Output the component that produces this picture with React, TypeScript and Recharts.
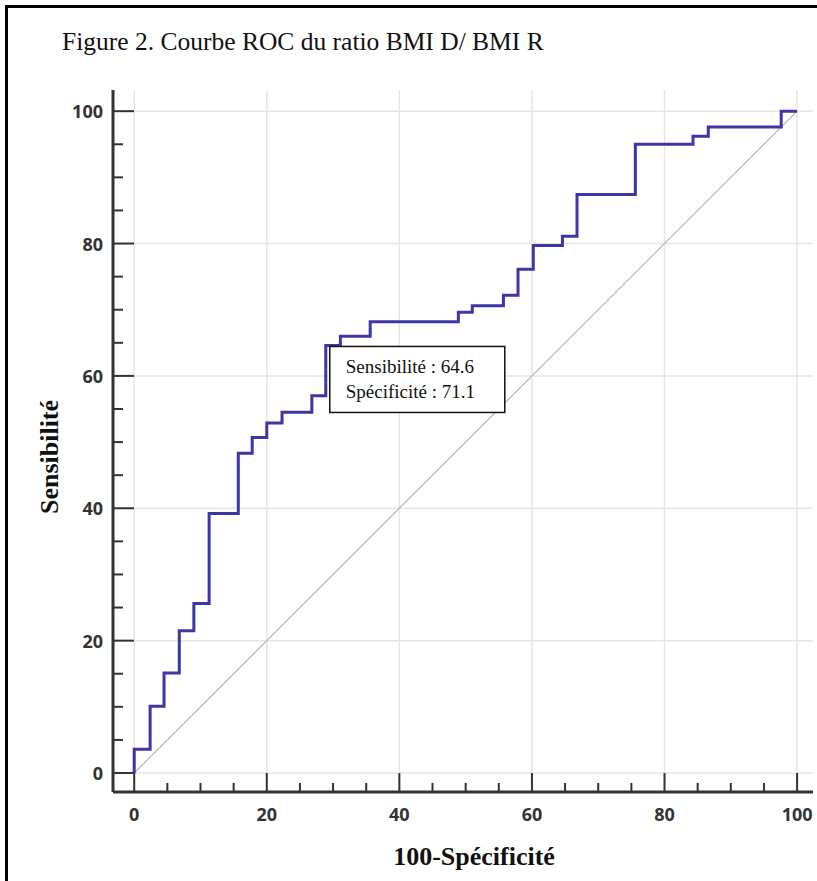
import React from 'react';
import {
  LineChart,
  Line,
  XAxis,
  YAxis,
  CartesianGrid,
  ReferenceLine,
  ReferenceDot,
} from 'recharts';

// ROC curve corners: the step up happens at each x (100 - specificity)
const fprValues = [
  0, 0, 2.4, 4.5, 6.8, 9.0, 11.3, 15.7, 17.8, 20.0, 22.3, 26.8, 28.9, 31.1,
  35.6, 48.9, 51.0, 55.7, 57.9, 60.2, 64.6, 66.8, 75.6, 84.3, 86.6, 97.6, 100,
];
const sensValues = [
  0, 3.6, 10.1, 15.1, 21.5, 25.6, 39.2, 48.3, 50.7, 52.9, 54.5, 57.0, 64.6,
  66.0, 68.2, 69.6, 70.6, 72.2, 76.1, 79.7, 81.1, 87.4, 95.0, 96.2, 97.6, 100,
  100,
];

// chance line
const diagonal = [
  { x: 0, y: 0 },
  { x: 100, y: 100 },
];

// selected cut-off
const cutSensitivity = 64.6;
const cutSpecificity = 71.1;

const axisTicks = [
  0, 5, 10, 15, 20, 25, 30, 35, 40, 45, 50, 55, 60, 65, 70, 75, 80, 85, 90, 95,
  100,
];
const gridValues = [0, 20, 40, 60, 80, 100];

const rocData = fprValues.map((x, i) => ({ x, y: sensValues[i] }));

const serif = '"Liberation Serif", "Times New Roman", serif';

const tickFont = {
  fontFamily: '"Open Sans", sans-serif',
  fontWeight: 700,
  fontSize: 18,
  fill: '#333',
};

const YTick = (props: any) => {
  const { x, y, payload } = props;
  const v = payload.value;
  const major = v % 20 === 0;
  return (
    <g>
      <line x1={x} y1={y} x2={x + (major ? 21 : 10)} y2={y} stroke="#333" strokeWidth={2} />
      {major && (
        <text x={x - 10} y={y} textAnchor="end" dominantBaseline="central" style={tickFont}>
          {v}
        </text>
      )}
    </g>
  );
};

const XTick = (props: any) => {
  const { x, y, payload } = props;
  const v = payload.value;
  const major = v % 20 === 0;
  return (
    <g>
      <line x1={x} y1={y} x2={x} y2={y - (major ? 19 : 9)} stroke="#333" strokeWidth={2} />
      {major && (
        <text x={x} y={y + 29} textAnchor="middle" style={tickFont}>
          {v}
        </text>
      )}
    </g>
  );
};

const CutoffBox = (props: any) => {
  const { cx, cy } = props;
  const bx = cx + 4;
  const by = cy + 1;
  const f = { fontFamily: serif, fontSize: 19, fill: '#111' };
  return (
    <g>
      <rect x={bx} y={by} width={175} height={66} fill="#fff" stroke="#111" strokeWidth={1.5} />
      <text x={bx + 16} y={by + 27} style={f}>
        {`Sensibilité : ${cutSensitivity}`}
      </text>
      <text x={bx + 16} y={by + 52} style={f}>
        {`Spécificité : ${cutSpecificity}`}
      </text>
    </g>
  );
};

export default function App() {
  return (
    <div
      style={{
        position: 'fixed',
        left: 0,
        top: 0,
        right: 0,
        bottom: 0,
        overflow: 'hidden',
        background: '#fff',
      }}
    >
      <div style={{ position: 'absolute', left: 0, top: 0 }}>
        <LineChart
          width={817}
          height={881}
          data={rocData}
          margin={{ top: 90, right: 4, bottom: 0, left: 53 }}
        >
          <CartesianGrid
            stroke="#e6e6e6"
            strokeWidth={1.5}
            horizontalValues={gridValues}
            verticalValues={gridValues}
          />
          <XAxis
            type="number"
            dataKey="x"
            domain={[-3.2, 102.4]}
            allowDataOverflow
            ticks={axisTicks}
            interval={0}
            tickSize={0}
            tickMargin={0}
            tickLine={false}
            tick={XTick}
            height={89}
            axisLine={{ stroke: '#333', strokeWidth: 3 }}
          />
          <YAxis
            type="number"
            dataKey="y"
            domain={[-2.87, 103.2]}
            allowDataOverflow
            ticks={axisTicks}
            interval={0}
            tickSize={0}
            tickMargin={0}
            tickLine={false}
            tick={YTick}
            width={60}
            axisLine={{ stroke: '#333', strokeWidth: 3 }}
          />
          <ReferenceLine segment={diagonal} stroke="#b8b8b8" strokeWidth={1.2} />
          <Line
            type="stepAfter"
            dataKey="y"
            stroke="#3d36a8"
            strokeWidth={3}
            dot={false}
            activeDot={false}
            isAnimationActive={false}
          />
          <ReferenceDot
            x={100 - cutSpecificity}
            y={cutSensitivity}
            r={0}
            shape={CutoffBox}
          />
        </LineChart>
      </div>
      <svg
        width={817}
        height={881}
        style={{ position: 'absolute', left: 0, top: 0, pointerEvents: 'none' }}
      >
        <path d="M6.5 881 V6.5 H817" fill="none" stroke="#000" strokeWidth={3} />
        <text x={62} y={50} style={{ fontFamily: serif, fontSize: 25.5, fill: '#111' }}>
          Figure 2. Courbe ROC du ratio BMI D/ BMI R
        </text>
        <text
          x={474}
          y={865}
          textAnchor="middle"
          style={{ fontFamily: serif, fontSize: 26, fontWeight: 700, fill: '#111' }}
        >
          100-Spécificité
        </text>
        <text
          transform="translate(58 457) rotate(-90)"
          textAnchor="middle"
          style={{ fontFamily: serif, fontSize: 26, fontWeight: 700, fill: '#111' }}
        >
          Sensibilité
        </text>
      </svg>
    </div>
  );
}
